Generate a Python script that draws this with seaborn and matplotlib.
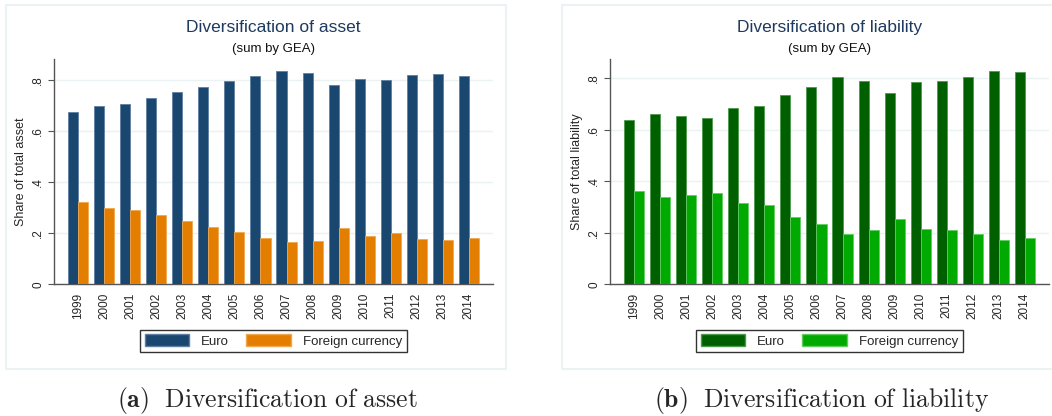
import pandas as pd
import matplotlib.pyplot as plt
import seaborn as sns
from matplotlib.patches import Rectangle, Patch

# values
years = [str(y) for y in range(1999, 2015)]
asset_euro = [0.677, 0.697, 0.706, 0.731, 0.752, 0.773, 0.797, 0.817,
              0.835, 0.830, 0.780, 0.805, 0.801, 0.822, 0.826, 0.817]
asset_foreign = [0.324, 0.299, 0.290, 0.271, 0.250, 0.225, 0.204, 0.183,
                 0.166, 0.171, 0.221, 0.191, 0.200, 0.179, 0.175, 0.183]
liab_euro = [0.637, 0.661, 0.654, 0.646, 0.683, 0.691, 0.735, 0.765,
             0.805, 0.790, 0.744, 0.786, 0.790, 0.805, 0.827, 0.823]
liab_foreign = [0.362, 0.338, 0.346, 0.355, 0.317, 0.308, 0.263, 0.234,
                0.194, 0.211, 0.255, 0.214, 0.211, 0.194, 0.173, 0.181]
series_names = ["Euro", "Foreign currency"]
yticks = [0, 0.2, 0.4, 0.6, 0.8]
ytick_labels = ["0", ".2", ".4", ".6", ".8"]

sns.set_style("white")
plt.rcParams['font.family'] = ['Liberation Sans', 'DejaVu Sans']
plt.rcParams['mathtext.fontset'] = 'cm'

W, H = 1052, 416
fig = plt.figure(figsize=(W / 100, H / 100), dpi=100)

title_col = '#1e3a5f'
grid_col = '#eaf2f3'


def px_axes(x0, x1, ytop, ybot):
    return fig.add_axes([x0 / W, (H - ybot) / H, (x1 - x0) / W, (ybot - ytop) / H])


def panel(x0, x1, ytop, ybot, euro, foreign, colors, edges, title, ylabel, ymax):
    # light Stata-style outer frame
    fig.patches.append(Rectangle((x0 / W, (H - 369) / H), (x1 - x0) / W, 364 / H,
                                 transform=fig.transFigure, facecolor='none',
                                 edgecolor=grid_col, lw=1.5, zorder=0))
    ax = px_axes(x0 + 48, x0 + 487, ytop, ybot)
    df = pd.DataFrame({
        'year': years * 2,
        'share': euro + foreign,
        'currency': [series_names[0]] * len(years) + [series_names[1]] * len(years),
    })
    sns.barplot(data=df, x='year', y='share', hue='currency', palette=colors,
                width=0.77, saturation=1, ax=ax, legend=False, zorder=3)
    for patch, ec in zip(ax.patches, [edges[0]] * 16 + [edges[1]] * 16):
        patch.set_edgecolor(ec)
        patch.set_linewidth(0.6)
    ax.set_xlim(-0.93, 15.93)
    ax.set_ylim(0, ymax)
    ax.set_yticks(yticks)
    ax.set_yticklabels(ytick_labels, rotation=90, va='center', fontsize=8.5)
    ax.tick_params(axis='x', labelrotation=90, labelsize=8.5, length=0, pad=6)
    ax.tick_params(axis='y', length=4, width=0.8, color='#555555', left=True, pad=3)
    ax.yaxis.grid(True, color=grid_col, lw=1)
    ax.set_axisbelow(True)
    for s in ['top', 'right']:
        ax.spines[s].set_visible(False)
    for s in ['left', 'bottom']:
        ax.spines[s].set_color('#555555')
        ax.spines[s].set_linewidth(1.0)
    ax.set_xlabel('')
    ax.set_ylabel(ylabel, fontsize=9)
    ax.text(0.5, 1.0 + 31 / 225, title, transform=ax.transAxes, ha='center',
            va='center', fontsize=12.5, color=title_col)
    ax.text(0.5, 1.0 + 10 / 225, '(sum by GEA)', transform=ax.transAxes,
            ha='center', va='center', fontsize=9.5, color='#111111')
    handles = [Patch(facecolor=colors[0], edgecolor=edges[0]),
               Patch(facecolor=colors[1], edgecolor=edges[1])]
    leg = ax.legend(handles, series_names, loc='center', bbox_to_anchor=(0.5, -0.252),
                    ncol=2, frameon=True, fancybox=False, edgecolor='black',
                    fontsize=9.5, handlelength=3.4, handleheight=0.95,
                    columnspacing=1.3, borderpad=0.35, handletextpad=0.9)
    leg.get_frame().set_linewidth(1.0)
    return ax


panel(6, 506, 59, 284.3, asset_euro, asset_foreign,
      ['#1a476f', '#e37e00'], ['#5f7fa0', '#f0a850'],
      'Diversification of asset', 'Share of total asset', 0.883)
panel(562, 1070, 59, 284.3, liab_euro, liab_foreign,
      ['#006000', '#00aa00'], ['#4d9a4d', '#60cc60'],
      'Diversification of liability', 'Share of total liability', 0.874)

captions = [r'$\mathbf{(a)}\ \ \mathrm{Diversification\ of\ asset}$',
            r'$\mathbf{(b)}\ \ \mathrm{Diversification\ of\ liability}$']
fig.text(267 / W, 1 - 400 / H, captions[0], ha='center', va='center', fontsize=18.5)
fig.text(822 / W, 1 - 400 / H, captions[1], ha='center', va='center', fontsize=18.5)

fig.savefig('out.png', dpi=100)
